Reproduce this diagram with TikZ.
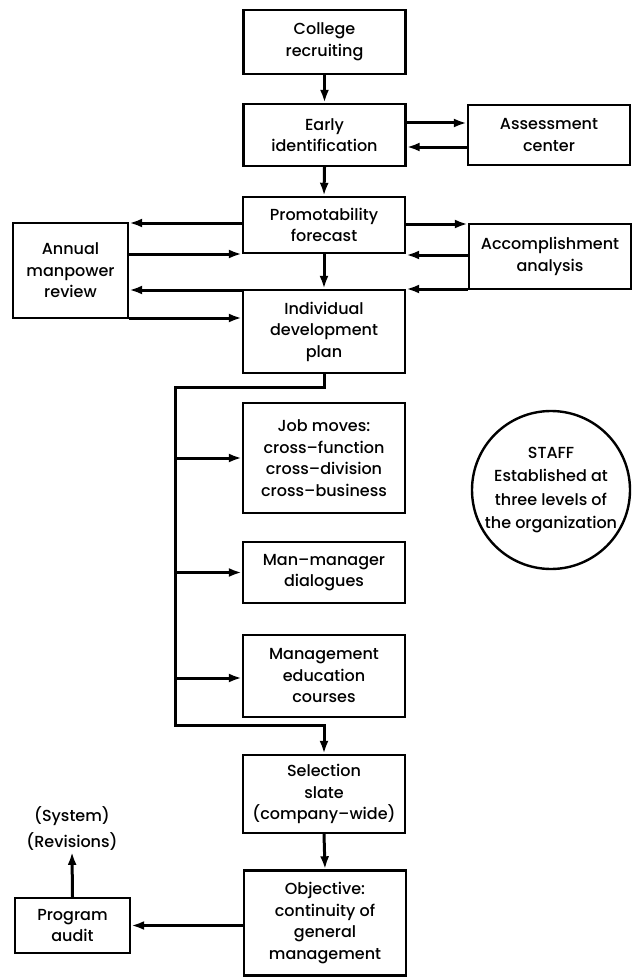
\documentclass[tikz,border=0pt]{standalone}
\usepackage{fontspec}
\setmainfont{Poppins}[UprightFont={* Medium}]
\usetikzlibrary{arrows.meta,calc}
\begin{document}
\begin{tikzpicture}[x=1pt,y=-1pt,
  font=\fontsize{16}{21.5}\selectfont,
  box/.style={draw, line width=2.4pt, inner sep=0pt, align=center, minimum width=162pt},
  conn/.style={line width=3pt, -{Latex[length=13pt,width=9pt]}},
  plain/.style={line width=3pt}]
\useasboundingbox (0,0) rectangle (632,979);

% main column
\node[box, minimum height=64pt] (college) at (324.5,42) {College\\recruiting};
\node[box, minimum height=62pt] (early) at (324.5,135) {Early\\identification};
\node[box, minimum height=60pt] (assess) at (549,135) {Assessment\\center};
\node[box, minimum height=56pt] (prom) at (324,225) {Promotability\\forecast};
\node[box, minimum width=115pt, minimum height=95pt] (annual) at (70.5,270.5) {Annual\\manpower\\review};
\node[box, minimum height=65pt] (acc) at (550,256.5) {Accomplishment\\analysis};
\node[box, minimum height=83pt] (idp) at (324,331.5) {Individual\\development\\plan};
\node[box, minimum height=110pt] (job) at (324,458) {Job moves:\\cross--function\\cross--division\\cross--business};
\node[box, minimum height=61pt] (man) at (324,572.5) {Man--manager\\dialogues};
\node[box, minimum height=82pt] (mgmt) at (324,676) {Management\\education\\courses};
\node[box, minimum height=78pt] (sel) at (324,794) {Selection\\slate\\(company--wide)};
\node[box, minimum height=105pt] (obj) at (325,923) {Objective:\\continuity of\\general\\management};
\node[box, minimum width=115pt, minimum height=55pt] (audit) at (72.5,925.5) {Program\\audit};
\node[align=center, inner sep=1pt] (rev) at (72,828.5) {(System)\\[5pt](Revisions)};
\node[draw, circle, line width=2.4pt, minimum size=158pt, inner sep=0pt, align=center,
      font=\fontsize{16}{23.5}\selectfont] (staff) at (551,490)
  {STAFF\\Established at\\three levels of\\the organization};

% connectors top
\draw[conn] (college.south) -- (early.north);
\draw[conn] (early.east |- 0,123) -- (assess.west |- 0,123);
\draw[conn] (assess.west |- 0,147) -- (early.east |- 0,147);
\draw[conn] (early.south) -- (prom.north);

% left side
\draw[conn] (prom.west |- 0,223) -- (annual.east |- 0,223);
\draw[conn] (annual.east |- 0,254) -- (prom.west |- 0,254);
\draw[conn] (idp.west |- 0,290) -- (annual.east |- 0,290);
\draw[conn] (annual.east |- 0,318) -- (idp.west |- 0,318);

% right side
\draw[conn] (prom.east |- 0,224) -- (acc.west |- 0,224);
\draw[conn] (acc.west |- 0,255) -- (prom.east |- 0,255);
\draw[conn] (acc.west |- 0,289) -- (idp.east |- 0,289);

\draw[conn] (prom.south) -- (idp.north);

% bus
\coordinate (bt) at (175,387);
\coordinate (bb) at (175,725);
\draw[conn] (idp.south) |- (bt) -- (bb) -| (sel.north);
\draw[conn] (bt |- job.west) -- (job.west);
\draw[conn] (bt |- man.west) -- (man.west);
\draw[conn] (bt |- 0,678) -- (mgmt.west |- 0,678);

% bottom
\draw[conn] (sel.south) -- (obj.north);
\draw[conn] (obj.west |- audit.east) -- (audit.east);
\draw[conn] (audit.north) -- (rev.south);
\end{tikzpicture}
\end{document}
